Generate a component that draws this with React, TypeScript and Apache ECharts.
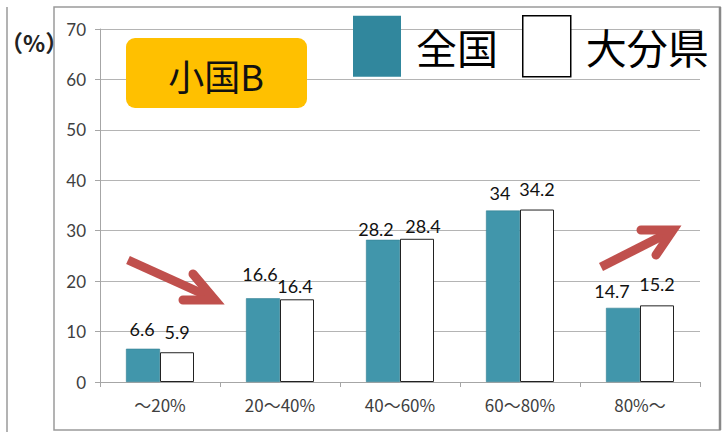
import React, { useEffect, useRef } from "react";
import * as echarts from "echarts";

const categories = ["～20%", "20～40%", "40～60%", "60～80%", "80%～"];
const nationalValues = [6.6, 16.6, 28.2, 34, 14.7];
const oitaValues = [5.9, 16.4, 28.4, 34.2, 15.2];
const seriesNames = ["全国", "大分県"];
const yTicks = { min: 0, max: 70, interval: 10 };
const titleText = "小国B";
const unitText = "（%）";

// label nudges (as placed in the original Excel chart), [dx, dy] in px
const nationalLabelNudge = [[-1, -6], [-3, -10], [-7, 3], [-3, -4], [-11, -3]];
const oitaLabelNudge = [[0, -6], [-2, 1], [6, 1], [0, -7], [0, -7]];

const CJK = '"Noto Sans CJK JP", "Noto Sans", sans-serif';
const NUM = 'Lato, "Open Sans", sans-serif';
const ARROW = "#C0504D";

const withNudge = (vals: number[], nudge: number[][]) =>
  vals.map((v, i) => ({ value: v, label: { offset: nudge[i] } }));

export default function App() {
  const ref = useRef<HTMLDivElement>(null);
  useEffect(() => {
    if (!ref.current) return;
    const chart = echarts.init(ref.current, undefined, { renderer: "svg" });
    const labelStyle = { show: true, position: "top", distance: 5, color: "#111", fontSize: 18, fontFamily: NUM };
    chart.setOption({
      animation: false,
      backgroundColor: "#ffffff",
      grid: { left: 100, right: 26, top: 29, bottom: 50 },
      legend: {
        left: 348,
        top: 10,
        icon: "rect",
        itemWidth: 48,
        itemHeight: 61,
        itemGap: 24,
        selectedMode: false,
        data: [
          { name: seriesNames[0], itemStyle: { color: "#31879d", borderWidth: 0 } },
          { name: seriesNames[1], itemStyle: { color: "#ffffff", borderColor: "#000", borderWidth: 1.5 } },
        ],
        textStyle: { fontSize: 41, color: "#000", fontFamily: CJK, padding: [0, 0, 0, 10] },
      },
      xAxis: {
        type: "category",
        data: categories,
        axisLine: { lineStyle: { color: "#a6a6a6" } },
        axisTick: { show: true, length: 5, lineStyle: { color: "#a6a6a6" } },
        axisLabel: { color: "#404040", fontSize: 17, fontFamily: CJK, margin: 14 },
      },
      yAxis: {
        type: "value",
        min: yTicks.min,
        max: yTicks.max,
        interval: yTicks.interval,
        axisLine: { show: true, lineStyle: { color: "#a6a6a6" } },
        axisTick: { show: true, length: 5, lineStyle: { color: "#a6a6a6" } },
        axisLabel: { color: "#404040", fontSize: 17, fontFamily: NUM, margin: 14 },
        splitLine: { lineStyle: { color: "#b4b4b4" } },
      },
      series: [
        {
          name: seriesNames[0],
          type: "bar",
          data: withNudge(nationalValues, nationalLabelNudge),
          barWidth: 34,
          barGap: "0%",
          itemStyle: { color: "#4196ab", borderColor: "#347f92", borderWidth: 0.6 },
          label: labelStyle,
        },
        {
          name: seriesNames[1],
          type: "bar",
          data: withNudge(oitaValues, oitaLabelNudge),
          barWidth: 34,
          itemStyle: { color: "#ffffff", borderColor: "#222", borderWidth: 1 },
          label: labelStyle,
        },
      ],
      graphic: [
        { type: "rect", silent: true, z: -1, shape: { x: 54, y: 7, width: 666, height: 423 }, style: { fill: "none", stroke: "#9a9a9a", lineWidth: 1.5 } },
        { type: "line", silent: true, shape: { x1: 720, y1: 7, x2: 720, y2: 430 }, style: { stroke: "#888", lineWidth: 2.5 } },
        { type: "line", silent: true, shape: { x1: 7, y1: 7, x2: 7, y2: 432 }, style: { stroke: "#9a9a9a", lineWidth: 1.5 } },
        { type: "text", silent: true, x: 0, y: 42, style: { text: unitText, fontSize: 23, fontWeight: "bold", fontFamily: CJK, fill: "#222", verticalAlign: "middle" } },
        { type: "rect", silent: true, z: 10, shape: { x: 126, y: 38, width: 181, height: 70, r: 9 }, style: { fill: "#FFC000" } },
        { type: "text", silent: true, z: 11, x: 216, y: 75, style: { text: titleText, fontSize: 36, fontFamily: CJK, fill: "#111", align: "center", verticalAlign: "middle" } },
        { type: "line", silent: true, z: 10, shape: { x1: 128, y1: 260, x2: 212, y2: 298 }, style: { stroke: ARROW, lineWidth: 9 } },
        { type: "polyline", silent: true, z: 10, shape: { points: [[193, 274], [215, 300], [183, 300]] }, style: { stroke: ARROW, lineWidth: 9, fill: "none", lineCap: "round", lineJoin: "miter" } },
        { type: "line", silent: true, z: 10, shape: { x1: 601, y1: 267, x2: 670, y2: 232 }, style: { stroke: ARROW, lineWidth: 9 } },
        { type: "polyline", silent: true, z: 10, shape: { points: [[641, 230], [673, 230], [656, 255]] }, style: { stroke: ARROW, lineWidth: 9, fill: "none", lineCap: "round", lineJoin: "miter" } },
      ],
    });
    return () => chart.dispose();
  }, []);
  return <div ref={ref} style={{ position: "fixed", left: 0, top: 0, width: 726, height: 432 }} />;
}
